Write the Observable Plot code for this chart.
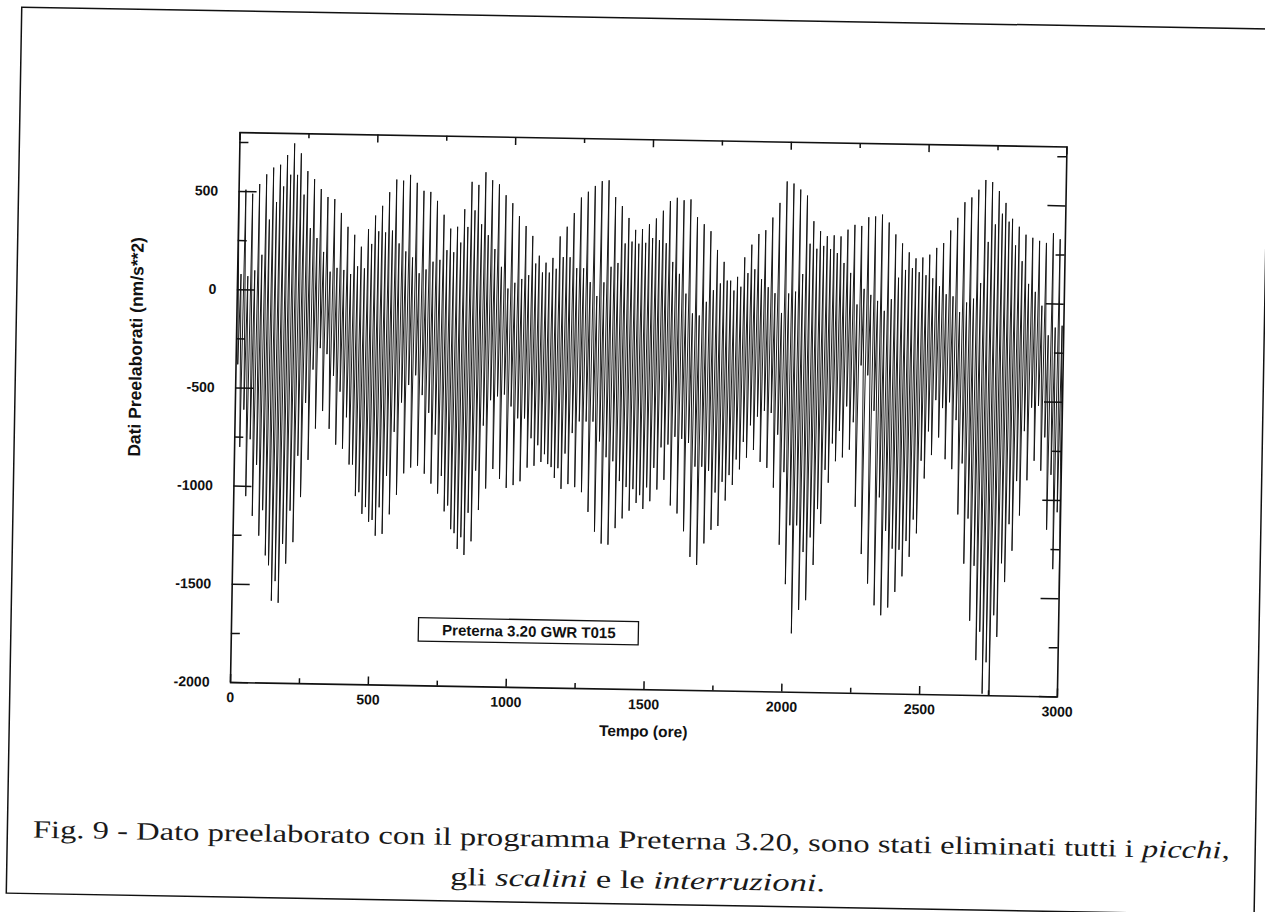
<!DOCTYPE html>
<html><head><meta charset="utf-8">
<script src="https://cdn.jsdelivr.net/npm/d3@7"></script>
<script src="https://cdn.jsdelivr.net/npm/@observablehq/plot@0.6"></script>
<style>
html,body{margin:0;padding:0;background:#fff;overflow:hidden;width:1265px;height:912px;}
#page{position:absolute;left:0;top:0;width:1265px;height:912px;transform:rotate(1deg);transform-origin:230px 682px;}
#deco{position:absolute;left:0;top:0;}
#chart{position:absolute;left:100px;top:100px;}
</style></head>
<body><div id="page"><svg id="deco" width="1265" height="912"></svg><div id="chart"></div></div>
<script>
// Per tidal day (~24.84 h): first high, following shallow low, second high, following deep low (nm/s**2)
const peakHigh = [500,510,490,540,590,625,640,690,750,700, 610,570,520,480,470,400,330,290,230,320,
 390,440,510,575,570,600,560,520,515,470, 400,330,340,430,570,555,620,580,560,505,
 465,400,350,300,200,165,190,300,350,420, 500,530,560,585,590,505,460,400,340,345,
 370,400,440,490,507,495,500,410,375,340, 245,185,90,110,210,275,330,350,415,490,
 600,590,560,530,400,350,325,330,325,360, 385,380,425,430,440,400,340,295,250,220,
 225,240,275,300,365,430,510,535,575,625, 615,570,510,430,390,350,335,320,310,360, 330];
const troughShallow = [-380,-610,-760,-890,-1120,-1400,-1480,-1290,-1120,-840,
 -570,-400,-290,-320,-430,-510,-640,-880,-1020,-1095,
 -1160,-1095,-935,-710,-560,-470,-420,-520,-610,-720,
 -930,-1080,-1220,-1240,-1115,-900,-670,-540,-520,-510,
 -570,-630,-630,-730,-765,-810,-875,-880,-805,-700,
 -640,-640,-640,-740,-820,-840,-940,-970,-980,-1010,
 -970,-870,-765,-750,-710,-720,-740,-860,-860,-880,
 -990,-935,-900,-820,-730,-645,-600,-570,-580,-690,
 -880,-1150,-1150,-1285,-1210,-1065,-865,-730,-665,-540,
 -620,-330,-380,-560,-1000,-1170,-1260,-1265,-1220,-1110,
 -810,-660,-500,-540,-510,-600,-820,-1100,-1340,-1675,
 -1830,-1590,-1325,-1125,-905,-650,-530,-520,-680,-870,-1060];
const peakLow = [80,70,100,180,360,450,530,590,590,490,
 320,270,200,100,120,110,90,130,120,245,
 310,305,315,250,210,180,100,120,160,170,
 220,210,260,340,425,355,300,230,140,30,
 60,80,100,160,115,115,135,195,195,140,
 140,70,0,70,150,170,270,280,270,275,
 300,290,275,180,120,20,-80,-90,-20,40,
 75,90,40,60,130,150,100,60,30,-70,
 30,40,130,285,260,275,260,240,190,140,
 -20,60,30,0,-50,10,120,160,170,150,
 135,120,80,40,30,-50,0,20,100,310,
 400,455,415,295,215,100,60,-10,-160,-120,-110];
const troughDeep = [-800,-1050,-1150,-1250,-1350,-1580,-1590,-1390,-1280,-1050, -860,-700,-610,-700,-780,-800,-880,-1040,-1130,-1170,
 -1240,-1230,-1130,-1030,-920,-890,-880,-920,-970,-1020, -1110,-1200,-1300,-1330,-1260,-1100,-990,-890,-940,-985,
 -970,-950,-880,-870,-850,-860,-930,-985,-960,-975, -1000,-1100,-1200,-1260,-1265,-1180,-1130,-1090,-1050,-1080,
 -1040,-980,-930,-1060,-1100,-1190,-1320,-1360,-1250,-1180, -1160,-1030,-950,-870,-810,-770,-830,-860,-960,-1250,
 -1450,-1700,-1580,-1530,-1350,-1140,-930,-820,-800,-760, -1050,-1290,-1440,-1550,-1600,-1560,-1480,-1400,-1300,-1180,
 -900,-780,-690,-800,-850,-1080,-1330,-1620,-1820,-1990, -2040,-1700,-1420,-1260,-1080,-900,-800,-850,-1150,-1350, -1500];

const xMajor = [0, 500, 1000, 1500, 2000, 2500, 3000];
const xMinor = [250, 750, 1250, 1750, 2250, 2750];
const yMajor = [500, 0, -500, -1000, -1500, -2000];
const yMinor = [750, 250, -250, -750, -1250, -1750];
const xDomain = [0, 3000];
const yDomain = [-2000, 800];

const yLabel = "Dati Preelaborati (nm/s**2)";
const xLabel = "Tempo (ore)";
const legendText = "Preterna 3.20 GWR T015";
const captionLine1 = ["Fig. 9 - Dato preelaborato con il programma Preterna 3.20, sono stati eliminati tutti i ", "picchi", ","];
const captionLine2 = ["gli ", "scalini", " e le ", "interruzioni", "."];

// build the series (extrema in time order)
const values = [];
for (let d = 0; d < peakHigh.length; d++) values.push(peakHigh[d], troughShallow[d], peakLow[d], troughDeep[d]);
const stepH = (xDomain[1] - xDomain[0]) / (values.length - 1);
const points = values.map((v, i) => ({t: xDomain[0] + i * stepH, v}));

const W = 1000, H = 650, mL = 130, mT = 32, plotW = 827, plotH = 550;
const hPx = (xDomain[1] - xDomain[0]) / plotW;
const uPx = (yDomain[1] - yDomain[0]) / plotH;
const ink = "#111";
const font = "'Liberation Sans', Arial, Helvetica, sans-serif";

const legendBox = {x1: 680, x2: 1478, y1: -1775, y2: -1656, tx: 1079, ty: -1716};

const chart = Plot.plot({
  width: W, height: H,
  marginLeft: mL, marginTop: mT, marginRight: W - mL - plotW, marginBottom: H - mT - plotH,
  x: {domain: xDomain, axis: null},
  y: {domain: yDomain, axis: null},
  style: {fontFamily: font, color: ink, background: "transparent", overflow: "visible"},
  marks: [
    Plot.line(points, {x: "t", y: "v", stroke: ink, strokeWidth: 0.95, clip: true}),
    Plot.frame({stroke: ink, strokeWidth: 1.6}),
    // left & right ticks (inward)
    Plot.ruleY(yMajor, {y: d => d, x1: xDomain[0], x2: xDomain[0] + 18 * hPx, stroke: ink, strokeWidth: 1.5}),
    Plot.ruleY(yMinor, {y: d => d, x1: xDomain[0], x2: xDomain[0] + 9 * hPx, stroke: ink, strokeWidth: 1.5}),
    Plot.ruleY(yMajor, {y: d => d, x1: xDomain[1] - 18 * hPx, x2: xDomain[1], stroke: ink, strokeWidth: 1.5}),
    Plot.ruleY(yMinor, {y: d => d, x1: xDomain[1] - 9 * hPx, x2: xDomain[1], stroke: ink, strokeWidth: 1.5}),
    // bottom & top ticks (inward)
    Plot.ruleX(xMajor, {x: d => d, y1: yDomain[0], y2: yDomain[0] + 8 * uPx, stroke: ink, strokeWidth: 1.5}),
    Plot.ruleX(xMinor, {x: d => d, y1: yDomain[0], y2: yDomain[0] + 5 * uPx, stroke: ink, strokeWidth: 1.5}),
    Plot.ruleX(xMajor, {x: d => d, y1: yDomain[1] - 8 * uPx, y2: yDomain[1], stroke: ink, strokeWidth: 1.5}),
    Plot.ruleX(xMinor, {x: d => d, y1: yDomain[1] - 5 * uPx, y2: yDomain[1], stroke: ink, strokeWidth: 1.5}),
    // tick labels
    Plot.text(yMajor, {x: xDomain[0], y: d => d, text: d => String(d), dx: -21, textAnchor: "end", fontSize: 14, fontWeight: "bold", fill: ink}),
    Plot.text(xMajor, {x: d => d, y: yDomain[0], text: d => String(d), dy: 15, fontSize: 14, fontWeight: "bold", fill: ink}),
    // axis titles
    Plot.text([xLabel], {x: 1500, y: yDomain[0], text: d => d, dy: 42, fontSize: 15.5, fontWeight: "bold", fill: ink}),
    Plot.text([yLabel], {x: xDomain[0], y: -300, text: d => d, dx: -100, rotate: -90, fontSize: 17.5, fontWeight: "bold", fill: ink}),
    // legend box
    Plot.rect([legendBox], {x1: "x1", x2: "x2", y1: "y1", y2: "y2", fill: "white", stroke: ink, strokeWidth: 1.3}),
    Plot.text([legendText], {x: legendBox.tx, y: legendBox.ty, text: d => d, fontSize: 15, fontWeight: "bold", fill: ink})
  ]
});
document.getElementById("chart").appendChild(chart);

// page border and caption
const deco = d3.select("#deco");
deco.append("rect").attr("x", 10).attr("y", 11).attr("width", 1248).attr("height", 886)
  .attr("fill", "none").attr("stroke", ink).attr("stroke-width", 1.5);
function caption(parts, italicIdx, x, y, len) {
  const t = deco.append("text").attr("x", x).attr("y", y).attr("text-anchor", "middle")
    .attr("font-family", "'Liberation Serif', 'Times New Roman', serif").attr("font-size", 25)
    .attr("fill", "#1a1a1a").attr("textLength", len).attr("lengthAdjust", "spacingAndGlyphs");
  parts.forEach((p, i) => {
    const s = t.append("tspan").text(p);
    if (italicIdx.includes(i)) s.attr("font-style", "italic");
  });
}
caption(captionLine1, [1], 634, 841, 1197);
caption(captionLine2, [1, 3], 641, 881, 375);
</script>
</body></html>
